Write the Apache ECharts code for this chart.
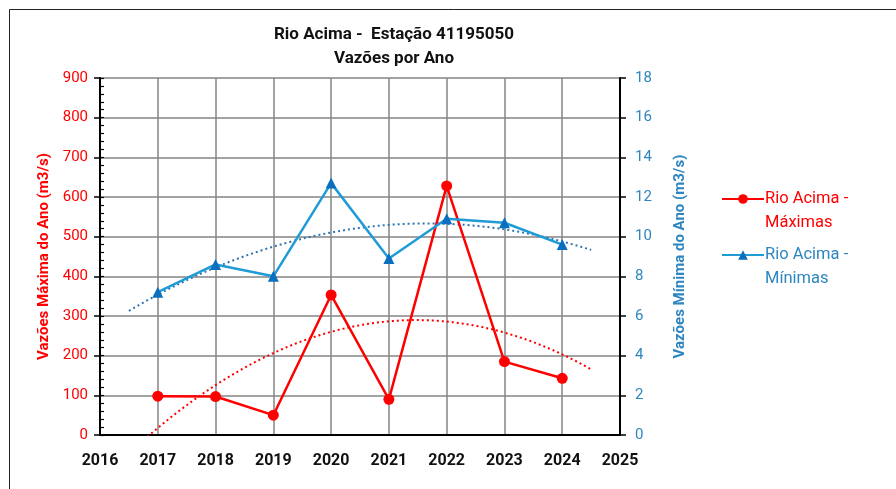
<!DOCTYPE html>
<html>
<head>
<meta charset="utf-8">
<script src="https://cdn.jsdelivr.net/npm/echarts@6/dist/echarts.min.js"></script>
<style>
  html, body { margin: 0; padding: 0; background: #fff; }
  #chart { width: 896px; height: 489px; }
</style>
</head>
<body>
<div id="chart"></div>
<script>
// Anos de observação
const anos = [2017, 2018, 2019, 2020, 2021, 2022, 2023, 2024];
// Vazões máximas anuais (m3/s)
const maximas = [98, 97, 50, 353, 90, 628, 185, 143];
// Vazões mínimas anuais (m3/s)
const minimas = [7.2, 8.6, 8.0, 12.7, 8.9, 10.9, 10.7, 9.6];

const nomeMax = 'Rio Acima -\nMáximas';
const nomeMin = 'Rio Acima -\nMínimas';

// Ajuste polinomial de 2ª ordem (mínimos quadrados) para a linha de tendência
function ajusteQuadratico(xs, ys) {
  const n = xs.length;
  const xm = xs.reduce((s, v) => s + v, 0) / n;
  const u = xs.map(v => v - xm);
  let s2 = 0, s4 = 0, sy = 0, suy = 0, su2y = 0;
  for (let i = 0; i < n; i++) {
    s2 += u[i] * u[i];
    s4 += u[i] ** 4;
    sy += ys[i];
    suy += u[i] * ys[i];
    su2y += u[i] * u[i] * ys[i];
  }
  const b = suy / s2;
  const a = (n * su2y - s2 * sy) / (n * s4 - s2 * s2);
  const c = (sy - a * s2) / n;
  return x => { const t = x - xm; return a * t * t + b * t + c; };
}

// Tendência projetada meio ano antes e depois do período
function curvaTendencia(xs, ys) {
  const f = ajusteQuadratico(xs, ys);
  const pts = [];
  for (let x = xs[0] - 0.5; x <= xs[xs.length - 1] + 0.5 + 1e-9; x += 0.05) {
    pts.push([+x.toFixed(2), f(x)]);
  }
  return pts;
}

const vermelho = '#FF0000';
const azulLinha = '#1F9BD6';
const azulMarca = '#0A6FBF';
const azulTexto = '#2E86C1';
const cinzaGrade = '#858585';

const chart = echarts.init(document.getElementById('chart'), null, { renderer: 'canvas' });

chart.setOption({
  animation: false,
  backgroundColor: '#ffffff',
  textStyle: { fontFamily: 'Roboto' },
  graphic: [{
    type: 'rect',
    shape: { x: 9.5, y: 9.5, width: 900, height: 500 },
    style: { fill: 'none', stroke: '#222', lineWidth: 1 },
    silent: true
  }],
  title: {
    text: 'Rio Acima -  Estação 41195050\nVazões por Ano',
    left: 389,
    textAlign: 'center',
    top: 18,
    textStyle: { fontSize: 17, fontWeight: 'bold', color: '#111', lineHeight: 24, fontFamily: 'Roboto' }
  },
  legend: {
    orient: 'vertical',
    left: 716,
    top: 158,
    itemWidth: 42,
    itemHeight: 12,
    itemGap: -16,
    data: [
      { name: nomeMax, textStyle: { color: vermelho } },
      { name: nomeMin, textStyle: { color: azulTexto } }
    ],
    // linha vazia inicial: o ícone fica alinhado com a primeira linha do nome
    formatter: n => '\n' + n,
    textStyle: { fontSize: 16.5, lineHeight: 24, fontFamily: 'Roboto', padding: [0, 0, 0, -4] }
  },
  grid: { left: 100, right: 276, top: 78, bottom: 54, containLabel: false },
  xAxis: {
    type: 'value',
    min: 2016,
    max: 2025,
    interval: 1,
    axisLine: { show: true, onZero: false, lineStyle: { color: '#000', width: 2 } },
    axisTick: { show: false },
    splitLine: { show: true, lineStyle: { color: cinzaGrade, width: 1.5 } },
    axisLabel: { color: '#111', fontSize: 16, fontWeight: 'bold', margin: 18, formatter: v => String(v) }
  },
  yAxis: [
    {
      type: 'value',
      position: 'left',
      min: 0,
      max: 900,
      interval: 100,
      name: 'Vazões Máxima do Ano (m3/s)',
      nameLocation: 'middle',
      nameGap: 48,
      nameTextStyle: { color: vermelho, fontSize: 15, fontWeight: 'bold' },
      axisLine: { show: true, lineStyle: { color: '#000', width: 2 } },
      axisTick: { show: true, length: 6, lineStyle: { color: '#000', width: 1.5 } },
      splitLine: { show: true, lineStyle: { color: cinzaGrade, width: 1.5 } },
      axisLabel: { color: vermelho, fontSize: 15, margin: 12 }
    },
    {
      type: 'value',
      position: 'right',
      min: 0,
      max: 18,
      interval: 2,
      name: 'Vazões Mínima do Ano (m3/s)',
      nameLocation: 'middle',
      nameGap: 53,
      nameRotate: 90,
      nameTextStyle: { color: azulTexto, fontSize: 15, fontWeight: 'bold' },
      axisLine: { show: true, lineStyle: { color: '#000', width: 2 } },
      axisTick: { show: true, length: 6, lineStyle: { color: '#000', width: 1.5 } },
      splitLine: { show: false },
      axisLabel: { color: azulTexto, fontSize: 15, margin: 15 }
    },
    {
      // marcas secundárias do eixo das máximas (voltadas para dentro)
      type: 'value',
      position: 'left',
      min: 0,
      max: 900,
      interval: 20,
      axisLine: { show: false },
      axisTick: { show: true, inside: true, length: 4, lineStyle: { color: '#000', width: 1.2 } },
      splitLine: { show: false },
      axisLabel: { show: false }
    }
  ],
  series: [
    {
      name: nomeMax,
      type: 'line',
      yAxisIndex: 0,
      data: anos.map((a, i) => [a, maximas[i]]),
      symbol: 'circle',
      symbolSize: 11,
      lineStyle: { color: vermelho, width: 2.5 },
      itemStyle: { color: vermelho },
      z: 5
    },
    {
      name: nomeMin,
      type: 'line',
      yAxisIndex: 1,
      data: anos.map((a, i) => [a, minimas[i]]),
      symbol: 'triangle',
      symbolSize: 11,
      lineStyle: { color: azulLinha, width: 2.5 },
      itemStyle: { color: azulMarca },
      z: 5
    },
    {
      name: 'Tendência máximas',
      type: 'line',
      yAxisIndex: 0,
      data: curvaTendencia(anos, maximas),
      showSymbol: false,
      symbol: 'none',
      lineStyle: { color: vermelho, width: 2, type: [2, 3] },
      z: 3
    },
    {
      name: 'Tendência mínimas',
      type: 'line',
      yAxisIndex: 1,
      data: curvaTendencia(anos, minimas),
      showSymbol: false,
      symbol: 'none',
      lineStyle: { color: '#2E75B6', width: 2, type: [2, 3] },
      z: 3
    }
  ]
});
</script>
</body>
</html>
